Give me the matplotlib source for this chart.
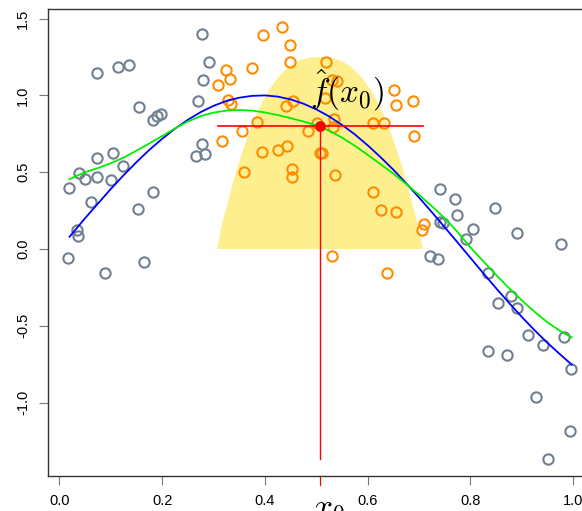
import matplotlib
matplotlib.use('Agg')
import matplotlib.pyplot as plt
import matplotlib.transforms as mtransforms

plt.rcParams['font.family'] = ['Liberation Sans', 'DejaVu Sans']
plt.rcParams['mathtext.fontset'] = 'cm'

# ---- data ----
gray_x = [0.019, 0.0175, 0.038, 0.050, 0.034, 0.037, 0.073, 0.074, 0.073, 0.062,
          0.105, 0.100, 0.123, 0.114, 0.135, 0.155, 0.154, 0.183, 0.190, 0.197,
          0.183, 0.089, 0.165, 0.277, 0.292, 0.280, 0.269, 0.277, 0.265, 0.284,
          0.741, 0.770, 0.774, 0.848, 0.890, 0.977, 0.741, 0.747, 0.805, 0.791,
          0.721, 0.737, 0.835, 0.879, 0.891, 0.853, 0.911, 0.942, 0.981, 0.9955,
          0.835, 0.872, 0.927, 0.9935, 0.950]
gray_y = [0.395, -0.061, 0.493, 0.454, 0.124, 0.085, 1.148, 0.590, 0.467, 0.304,
          0.627, 0.449, 0.540, 1.183, 1.196, 0.924, 0.258, 0.840, 0.866, 0.879,
          0.369, -0.158, -0.087, 1.398, 1.219, 1.100, 0.964, 0.684, 0.608, 0.618,
          0.389, 0.323, 0.221, 0.265, 0.102, 0.031, 0.178, 0.167, 0.128, 0.065,
          -0.043, -0.067, -0.158, -0.306, -0.382, -0.349, -0.560, -0.625, -0.575, -0.779,
          -0.662, -0.690, -0.966, -1.185, -1.367]

orange_x = [0.309, 0.324, 0.333, 0.329, 0.335, 0.317, 0.355, 0.384, 0.359, 0.375,
            0.397, 0.394, 0.434, 0.449, 0.449, 0.442, 0.455, 0.425, 0.443, 0.452,
            0.452, 0.518, 0.530, 0.540, 0.517, 0.651, 0.656, 0.688, 0.534, 0.533,
            0.501, 0.484, 0.611, 0.631, 0.691, 0.507, 0.512, 0.536, 0.610, 0.625,
            0.656, 0.709, 0.705, 0.531, 0.637]
orange_y = [1.070, 1.165, 1.110, 0.970, 0.946, 0.703, 0.770, 0.825, 0.500, 1.176,
            1.393, 0.634, 1.447, 1.328, 1.219, 0.933, 0.966, 0.645, 0.672, 0.522,
            0.471, 1.219, 1.100, 1.095, 0.985, 1.038, 0.938, 0.965, 0.845, 0.795,
            0.822, 0.767, 0.822, 0.822, 0.734, 0.627, 0.627, 0.482, 0.373, 0.252,
            0.238, 0.163, 0.124, -0.045, -0.154]

curve_x = [0.02, 0.05, 0.075, 0.10, 0.125, 0.15, 0.175, 0.20, 0.225, 0.25,
           0.275, 0.30, 0.325, 0.35, 0.375, 0.40, 0.425, 0.45, 0.475, 0.50,
           0.525, 0.55, 0.575, 0.60, 0.625, 0.65, 0.675, 0.70, 0.725, 0.75,
           0.775, 0.80, 0.825, 0.85, 0.875, 0.90, 0.925, 0.95, 0.975, 0.997]
true_y = [0.08, 0.20, 0.295, 0.39, 0.48, 0.565, 0.645, 0.717, 0.783, 0.841,
          0.891, 0.932, 0.964, 0.985, 0.997, 1.000, 0.992, 0.974, 0.946, 0.909,
          0.863, 0.808, 0.746, 0.675, 0.598, 0.516, 0.427, 0.335, 0.239, 0.141,
          0.042, -0.058, -0.158, -0.256, -0.351, -0.443, -0.530, -0.612, -0.688, -0.753]
fit_y = [0.455, 0.50, 0.527, 0.558, 0.595, 0.64, 0.687, 0.735, 0.785, 0.83,
         0.865, 0.888, 0.901, 0.905, 0.901, 0.889, 0.872, 0.852, 0.83, 0.805,
         0.770, 0.725, 0.672, 0.613, 0.552, 0.49, 0.423, 0.352, 0.278, 0.20,
         0.11, 0.01, -0.08, -0.17, -0.255, -0.335, -0.41, -0.478, -0.535, -0.575]

kernel_x = [0.307, 0.317, 0.327, 0.337, 0.347, 0.357, 0.367, 0.377, 0.387, 0.397, 0.407,
            0.427, 0.447, 0.467, 0.487, 0.507, 0.527, 0.547, 0.567, 0.587,
            0.607, 0.617, 0.627, 0.637, 0.647, 0.657, 0.667, 0.677, 0.687, 0.697, 0.707]
kernel_h = [0.0, 0.17, 0.29, 0.42, 0.535, 0.64, 0.738, 0.825, 0.901, 0.97, 1.029,
            1.124, 1.188, 1.228, 1.246, 1.25, 1.246, 1.228, 1.188, 1.124,
            1.029, 0.97, 0.901, 0.825, 0.738, 0.64, 0.535, 0.42, 0.29, 0.17, 0.0]

x0 = 0.507
f_hat = 0.80
window = [0.309, 0.708]
vline_bottom = -1.367

xticks = [0.0, 0.2, 0.4, 0.6, 0.8, 1.0]
xtick_labels = ['0.0', '0.2', '0.4', '0.6', '0.8', '1.0']
yticks = [-1.0, -0.5, 0.0, 0.5, 1.0, 1.5]
ytick_labels = ['-1.0', '-0.5', '0.0', '0.5', '1.0', '1.5']

# ---- figure ----
fig = plt.figure(figsize=(5.82, 5.11), dpi=100)
ax = fig.add_axes([48.3 / 582, (511 - 475.7) / 511, 535 / 582, 466.7 / 511])

ax.fill(kernel_x, kernel_h, color='#FEEF8E', lw=0, zorder=1)
ax.plot(gray_x, gray_y, 'o', mfc='none', mec='#708090', ms=7.4, mew=1.5, zorder=3)
ax.plot(orange_x, orange_y, 'o', mfc='none', mec='#FF8C00', ms=7.4, mew=1.5, zorder=3)
ax.plot(curve_x, true_y, color='#0000FF', lw=1.3, zorder=4)
ax.plot(curve_x, fit_y, color='#00EE00', lw=1.3, zorder=4)
ax.plot(window, [f_hat, f_hat], color='#FF0000', lw=1.2, zorder=5)
ax.plot([x0, x0], [f_hat, vline_bottom], color='#FF0000', lw=1.0, zorder=5)
ax.plot([x0], [f_hat], 'o', color='#FF0000', ms=6.8, zorder=6)

ax.text(0.559, 1.035, r'$\hat{f}(x_0)$', fontsize=24, ha='center', va='center', zorder=7)

ax.set_xlim(-0.0214, 1.0195)
ax.set_ylim(-1.476, 1.5625)
ax.set_xticks(xticks)
ax.set_xticklabels(xtick_labels)
ax.set_yticks(yticks)
ax.set_yticklabels(ytick_labels, rotation=90, va='center')

ax.tick_params(axis='both', length=6.5, width=0.8, color='#777777', labelsize=10.5, pad=6.5)

for s in ax.spines.values():
    s.set_color('#333333')
    s.set_linewidth(1.0)

trans = mtransforms.blended_transform_factory(ax.transData, ax.transAxes)
ax.plot([x0, x0], [0, -9 / 466.7], transform=trans, color='#FF0000', lw=0.9, clip_on=False)
ax.text(x0 + 0.017, -0.04, r'$x_0$', transform=trans, ha='center', va='top', fontsize=24)

fig.savefig('out.png', dpi=100)
